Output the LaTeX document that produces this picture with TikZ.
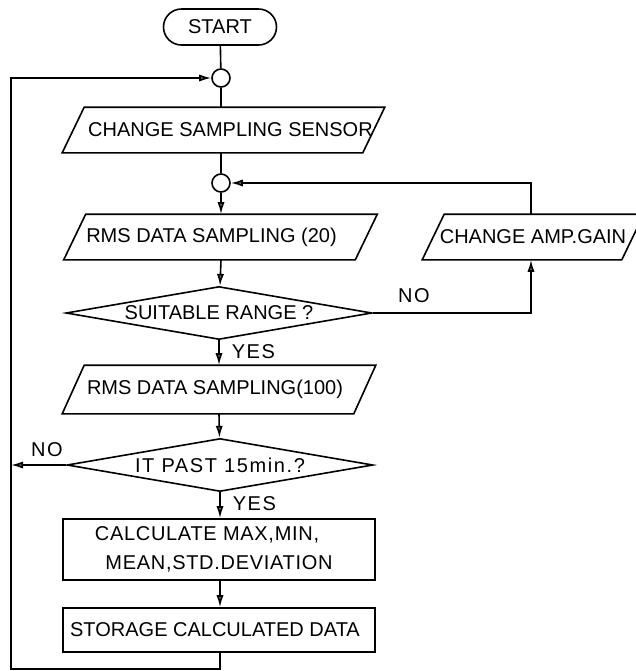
\documentclass[tikz,border=0pt]{standalone}
\usepackage{fontspec}
\setmainfont{Liberation Sans}
\newfontfamily\wide[LetterSpace=8]{Liberation Sans}
\newfontfamily\semiwide[LetterSpace=3.5]{Liberation Sans}
\usetikzlibrary{arrows.meta,shapes.geometric}
\begin{document}
\begin{tikzpicture}[x=0.5pt,y=-0.5pt,line width=0.8pt,font=\fontsize{10pt}{12pt}\selectfont,
>={Latex[length=6pt,width=3.6pt,fill=black!60]},
term/.style={draw,rectangle,rounded corners=9pt,minimum width=56.5pt,minimum height=18pt,inner sep=0pt},
joint/.style={draw,circle,minimum size=9pt,inner sep=0pt},
io/.style={rectangle,minimum width=156pt,minimum height=22pt,inner sep=0pt},
test/.style={draw,diamond,shape aspect=5.8,minimum width=153pt,minimum height=26.5pt,inner sep=0pt},
calcbox/.style={draw,rectangle,minimum width=156pt,inner sep=0pt},
answer/.style={inner sep=0pt,font=\fontsize{10pt}{12pt}\wide}]
\useasboundingbox (0,0) rectangle (636,671);

\node[term] (start) at (220,27) {START};
\node[joint] (c1) at (221,78) {};
\node[io,minimum width=160.5pt] (sensor) at (223.5,130) {\hspace*{7pt}CHANGE SAMPLING SENSOR};
\node[joint] (c2) at (221,183) {};
\node[io] (rms20) at (220.5,237) {RMS DATA SAMPLING (20)\hspace*{9pt}};
\node[io,minimum width=110pt] (amp) at (533,237) {CHANGE AMP.GAIN};
\node[test] (suit) at (219,313) {SUITABLE RANGE ?};
\node[io,minimum height=23.5pt] (rms100) at (219,389.5) {RMS DATA SAMPLING(100)\hspace*{4pt}};
\node[test,font=\fontsize{10pt}{12pt}\wide] (past) at (220,465) {IT PAST 15min.?};
\node[calcbox,minimum height=30.5pt,align=center,font=\fontsize{10pt}{14.5pt}\semiwide] (calc) at (219,549.5) {CALCULATE MAX,MIN,\hspace*{12pt}\\MEAN,STD.DEVIATION};
\node[calcbox,minimum height=22pt] (store) at (219,630) {STORAGE CALCULATED DATA\hspace*{4pt}};
\coordinate (loopB) at (11,669);

\foreach \n in {sensor,rms20,amp,rms100}
  \draw ([xshift=11pt]\n.north west) -- (\n.north east) -- ([xshift=-11pt]\n.south east) -- (\n.south west) -- cycle;

\draw (start) -- (c1);
\draw (c1) -- (sensor.north -| c1);
\draw (sensor.south -| c2) -- (c2);
\draw[->] (c2) -- (rms20.north -| c2);
\draw[->] (rms20.south -| c2) -- (suit);
\draw[->] (suit) -- (rms100.north -| suit) node[answer,pos=0.45,right=6pt] {YES};
\draw[->] (rms100.south -| suit) -- (past);
\draw[->] (past) -- (calc.north -| past) node[answer,pos=0.45,right=6pt] {YES};
\draw[->] (calc.south -| past) -- (store.north -| past);
\draw[->] (suit.east) -- (suit.east -| 531,0) node[answer,pos=0.26,above=5pt] {NO} -- (amp.south -| 531,0);
\draw[->] (amp.north -| 531,0) -- (c2 -| 531,0) -- (c2.east);
\draw[->] (past.west) -- (past.west -| loopB) node[answer,pos=0.35,above=4pt] {NO};
\draw[->] (store.south -| past) -- (past |- loopB) -- (loopB) -- (loopB |- c1) -- (c1.west);
\end{tikzpicture}
\end{document}
